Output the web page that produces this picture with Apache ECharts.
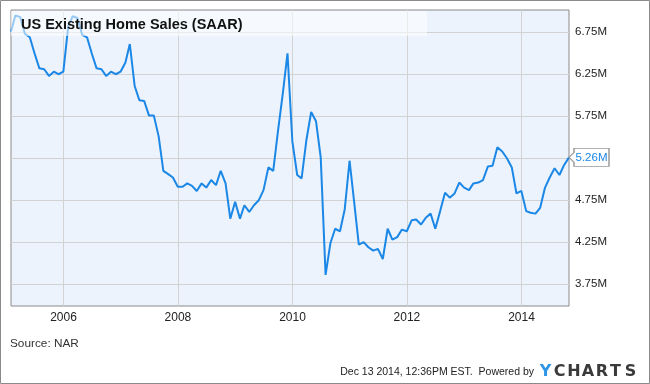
<!DOCTYPE html>
<html>
<head>
<meta charset="utf-8">
<script src="https://cdn.jsdelivr.net/npm/echarts@6/dist/echarts.min.js"></script>
<style>
html,body{margin:0;padding:0;background:#fff;}
#chart{width:650px;height:384px;}
</style>
</head>
<body>
<div id="chart"></div>
<script>
// Monthly US existing home sales, SAAR, millions (month-end dates)
const sales2005 = [6.76, 6.95, 6.93, 6.73, 6.69, 6.50, 6.32, 6.31, 6.23, 6.28, 6.25, 6.28];
const sales2006 = [6.82, 6.94, 6.92, 6.72, 6.69, 6.50, 6.32, 6.31, 6.23, 6.28, 6.25, 6.28];
const sales2007 = [6.39, 6.61, 6.11, 5.94, 5.93, 5.76, 5.76, 5.51, 5.10, 5.06, 5.02, 4.91];
const sales2008 = [4.91, 4.95, 4.92, 4.86, 4.95, 4.90, 4.99, 4.93, 5.10, 4.95, 4.53, 4.73];
const sales2009 = [4.53, 4.69, 4.61, 4.69, 4.75, 4.87, 5.14, 5.10, 5.57, 6.02, 6.50, 5.45];
const sales2010 = [5.05, 5.01, 5.47, 5.80, 5.69, 5.26, 3.86, 4.24, 4.41, 4.38, 4.64, 5.22];
const sales2011 = [4.70, 4.22, 4.25, 4.19, 4.15, 4.17, 4.05, 4.41, 4.28, 4.31, 4.40, 4.38];
const sales2012 = [4.51, 4.52, 4.46, 4.54, 4.59, 4.41, 4.62, 4.84, 4.78, 4.83, 4.96, 4.90];
const sales2013 = [4.87, 4.95, 4.96, 4.99, 5.15, 5.16, 5.38, 5.33, 5.25, 5.14, 4.83, 4.86];
const sales2014 = [4.62, 4.60, 4.59, 4.66, 4.90, 5.02, 5.13, 5.05, 5.17, 5.26];
const years = [2005, 2006, 2007, 2008, 2009, 2010, 2011, 2012, 2013, 2014];
const yearly = [sales2005, sales2006, sales2007, sales2008, sales2009, sales2010, sales2011, sales2012, sales2013, sales2014];

const xTickYears = [2006, 2008, 2010, 2012, 2014];
const yTickValues = [3.75, 4.25, 4.75, 5.25, 5.75, 6.25, 6.75];

const titleText = 'US Existing Home Sales (SAAR)';
const sourceText = 'Source: NAR';
const stampText = 'Dec 13 2014, 12:36PM EST.  Powered by';

// build [date, value] pairs
const data = [];
years.forEach((y, k) => {
  yearly[k].forEach((v, m) => {
    data.push([new Date(y, m + 1, 0).getTime(), v]);
  });
});
const first = data[0], last = data[data.length - 1];
const xTicks = xTickYears.map(y => new Date(y, 0, 1).getTime());

const blue = '#1B87E6';
const font = 'Liberation Sans, Arial, sans-serif';

const chart = echarts.init(document.getElementById('chart'), null, {renderer: 'canvas'});
const logo = [['Y', 545.5, '#2E96E6'], ['C', 559.5, '#3a3a3a'], ['H', 574, '#3a3a3a'], ['A', 588, '#3a3a3a'], ['R', 602, '#3a3a3a'], ['T', 615.5, '#3a3a3a'], ['S', 630.5, '#3a3a3a']];

chart.setOption({
  animation: false,
  backgroundColor: '#fff',
  textStyle: {fontFamily: font},
  grid: {left: 11, right: 81, top: 10, bottom: 78, show: true, backgroundColor: '#ECF3FD', borderColor: '#8a8a8a', borderWidth: 1},
  xAxis: {
    type: 'value', min: first[0], max: last[0],
    axisLine: {show: false},
    axisTick: {show: false, customValues: xTicks},
    axisLabel: {customValues: xTicks, formatter: v => String(new Date(v).getFullYear()), color: '#222', fontSize: 12, margin: 6, fontFamily: font},
    splitLine: {show: true, lineStyle: {color: '#d2d2d2', width: 1}}
  },
  yAxis: {
    type: 'value', position: 'right', min: 3.49, max: 7.015,
    axisLine: {show: false},
    axisTick: {show: false, customValues: yTickValues},
    axisLabel: {customValues: yTickValues, formatter: v => v.toFixed(2) + 'M', color: '#222', fontSize: 11.5, margin: 6, fontFamily: font},
    splitLine: {show: true, lineStyle: {color: '#d2d2d2', width: 1}}
  },
  series: [{
    type: 'line', data: data, showSymbol: false, z: 3,
    lineStyle: {color: blue, width: 2},
    markPoint: {
      symbol: 'path://M0,9 L5,4 L5,0 L40,0 L40,18 L5,18 L5,14 Z',
      symbolSize: [40, 18], symbolOffset: [20, 0], symbolKeepAspect: false,
      itemStyle: {color: '#fff', borderColor: '#999', borderWidth: 1},
      label: {show: true, position: 'inside', offset: [2.5, 0], color: blue, fontSize: 11.5, fontFamily: font, formatter: p => p.value.toFixed(2) + 'M'},
      data: [{coord: [last[0], last[1]], value: last[1]}]
    }
  }],
  graphic: [
    {type: 'rect', z: 100, shape: {x: 11, y: 11, width: 416, height: 25}, style: {fill: 'rgba(255,255,255,0.55)'}, silent: true},
    {type: 'text', z: 101, x: 21, y: 24.5, style: {text: titleText, fill: '#111', font: 'bold 14.5px ' + font, textVerticalAlign: 'middle'}},
    {type: 'text', z: 101, x: 10, y: 343.5, style: {text: sourceText, fill: '#333', font: '11.8px ' + font, textVerticalAlign: 'middle'}},
    {type: 'text', z: 101, x: 534, y: 372, style: {text: stampText, fill: '#222', font: '10.5px ' + font, textAlign: 'right', textVerticalAlign: 'middle'}},
    ...logo.map(l => ({type: 'text', z: 101, x: l[1], y: 371.5, style: {text: l[0], fill: l[2], font: 'bold 16px DejaVu Sans, sans-serif', textAlign: 'center', textVerticalAlign: 'middle'}})),
    {type: 'rect', z: 102, shape: {x: 0.5, y: 0.5, width: 649, height: 383}, style: {fill: null, stroke: '#8a8a8a', lineWidth: 1}, silent: true}
  ]
});
</script>
</body>
</html>
